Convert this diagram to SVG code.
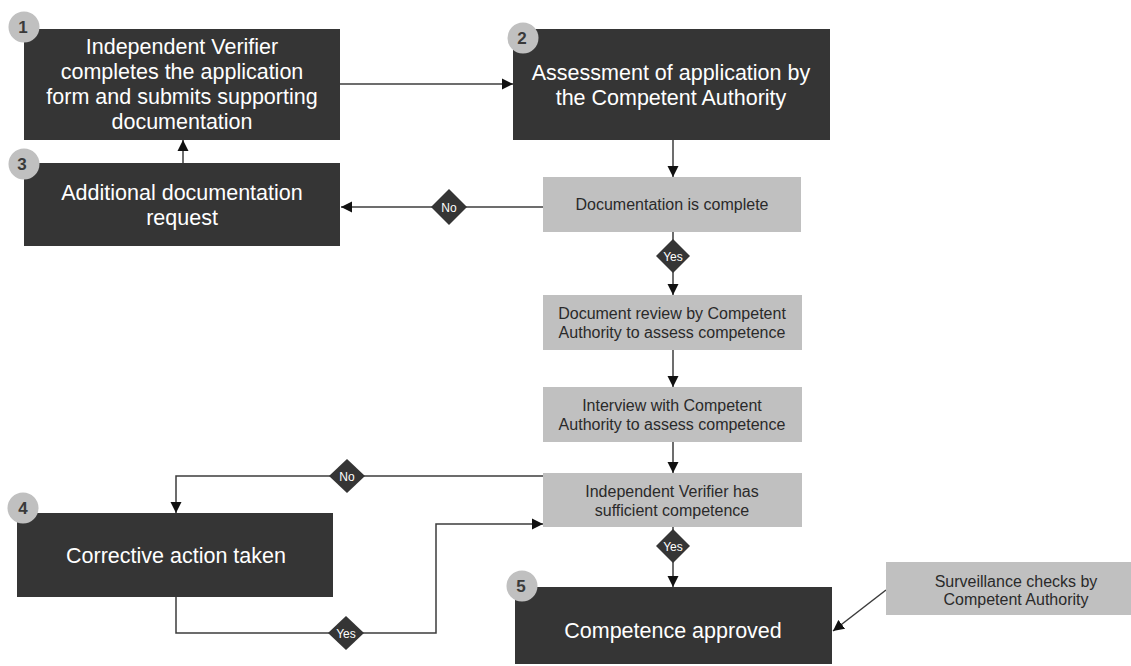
<svg xmlns="http://www.w3.org/2000/svg" width="1131" height="666" viewBox="0 0 1131 666">
<style>
.dark{fill:#353535;}
.gray{fill:#c0c0c0;}
.badge{fill:#c0c0c0;}
.badgeT{font-family:"Liberation Sans",Arial,sans-serif;font-size:17px;font-weight:bold;fill:#3a3a3a;text-anchor:middle;}
.dt{font-family:"Liberation Sans",Arial,sans-serif;font-size:21.5px;fill:#ffffff;text-anchor:middle;}
.gt{font-family:"Liberation Sans",Arial,sans-serif;font-size:16px;fill:#2a2a2a;text-anchor:middle;}
.line{fill:none;stroke:#3c3c3c;stroke-width:1.5;}
.dia{fill:#353535;}
.lab{font-family:"Liberation Sans",Arial,sans-serif;font-size:12px;fill:#ffffff;text-anchor:middle;}
</style>
<defs>
<marker id="arr" markerUnits="userSpaceOnUse" markerWidth="12" markerHeight="12" refX="11" refY="6" orient="auto">
<path d="M0,0.5 L11,6 L0,11.5 z" fill="#111"/>
</marker>
</defs>
<rect width="1131" height="666" fill="#ffffff"/>

<g id="connectors">
<path class="line" d="M340,84 H513" marker-end="url(#arr)"/>
<path class="line" d="M673,140 V177" marker-end="url(#arr)"/>
<path class="line" d="M543,207 H341" marker-end="url(#arr)"/>
<path class="line" d="M183,163 V140" marker-end="url(#arr)"/>
<path class="line" d="M673,232 V295" marker-end="url(#arr)"/>
<path class="line" d="M673,350 V387" marker-end="url(#arr)"/>
<path class="line" d="M673,442 V473" marker-end="url(#arr)"/>
<path class="line" d="M543,476 H176 V513" marker-end="url(#arr)"/>
<path class="line" d="M176,597 V633 H436 V524 H543" marker-end="url(#arr)"/>
<path class="line" d="M673,527 V587" marker-end="url(#arr)"/>
<path class="line" d="M886,590 L833,631" marker-end="url(#arr)"/>
<g id="label-no-1"><path class="dia" d="M449,189 L467,207 L449,225 L431,207 z"/><text class="lab" x="449" y="211.5">No</text></g>
<g id="label-yes-1"><path class="dia" d="M673,239 L690,256 L673,273 L656,256 z"/><text class="lab" x="673" y="260.5">Yes</text></g>
<g id="label-no-2"><path class="dia" d="M347,459 L365,476 L347,493 L329,476 z"/><text class="lab" x="347" y="480.5">No</text></g>
<g id="label-yes-2"><path class="dia" d="M346,616 L364,633 L346,650 L328,633 z"/><text class="lab" x="346" y="637.5">Yes</text></g>
<g id="label-yes-3"><path class="dia" d="M673,529 L690,546 L673,563 L656,546 z"/><text class="lab" x="673" y="550.5">Yes</text></g>
</g>

<g id="node1">
<rect class="dark" x="24" y="29" width="316" height="111"/>
<text class="dt" x="182" y="54">Independent Verifier</text>
<text class="dt" x="182" y="79">completes the application</text>
<text class="dt" x="182" y="104">form and submits supporting</text>
<text class="dt" x="182" y="129">documentation</text>
<circle class="badge" cx="24" cy="27" r="15.5"/>
<text class="badgeT" x="23" y="33">1</text>
</g>

<g id="node2">
<rect class="dark" x="513" y="29" width="317" height="111"/>
<text class="dt" x="671" y="80">Assessment  of application by</text>
<text class="dt" x="671" y="105">the Competent  Authority</text>
<circle class="badge" cx="523" cy="38" r="15.5"/>
<text class="badgeT" x="522" y="44">2</text>
</g>

<g id="node3">
<rect class="dark" x="24" y="163" width="316" height="83"/>
<text class="dt" x="182" y="200">Additional  documentation</text>
<text class="dt" x="182" y="225">request</text>
<circle class="badge" cx="24" cy="164" r="15.5"/>
<text class="badgeT" x="22" y="170">3</text>
</g>

<g id="node-doc-complete">
<rect class="gray" x="543" y="177" width="258" height="55"/>
<text class="gt" x="672" y="210">Documentation  is complete</text>
</g>

<g id="node-doc-review">
<rect class="gray" x="543" y="295" width="259" height="55"/>
<text class="gt" x="672" y="319">Document  review  by Competent</text>
<text class="gt" x="672" y="338">Authority to assess competence</text>
</g>

<g id="node-interview">
<rect class="gray" x="543" y="387" width="259" height="55"/>
<text class="gt" x="672" y="411">Interview  with Competent</text>
<text class="gt" x="672" y="430">Authority to assess competence</text>
</g>

<g id="node-sufficient">
<rect class="gray" x="543" y="473" width="259" height="54"/>
<text class="gt" x="672" y="497">Independent  Verifier has</text>
<text class="gt" x="672" y="516">sufficient  competence</text>
</g>

<g id="node4">
<rect class="dark" x="17" y="513" width="316" height="84"/>
<text class="dt" x="176" y="563">Corrective  action taken</text>
<circle class="badge" cx="23" cy="508" r="15.5"/>
<text class="badgeT" x="23" y="514">4</text>
</g>

<g id="node5">
<rect class="dark" x="515" y="587" width="317" height="77"/>
<text class="dt" x="673" y="638">Competence  approved</text>
<circle class="badge" cx="522" cy="586" r="15.5"/>
<text class="badgeT" x="521" y="592">5</text>
</g>

<g id="node-surveillance">
<rect class="gray" x="886" y="562" width="245" height="53"/>
<text class="gt" x="1016" y="587">Surveillance  checks by</text>
<text class="gt" x="1016" y="605">Competent  Authority</text>
</g>
</svg>
